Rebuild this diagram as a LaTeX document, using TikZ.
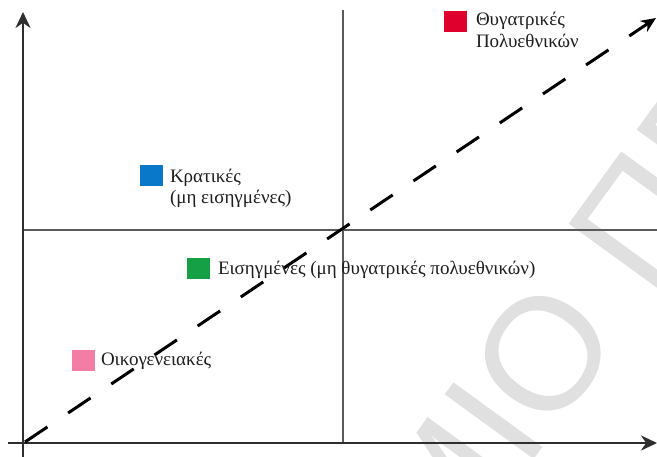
\documentclass[tikz,border=0pt]{standalone}
\usepackage{fontspec}
\setmainfont{Liberation Serif}
\newfontfamily\wmfont{Liberation Sans}
\usetikzlibrary{arrows.meta}
\definecolor{wmgray}{HTML}{E0E0E0}
\definecolor{axisgray}{HTML}{2E2E2E}
\definecolor{guidegray}{HTML}{5A5A5A}
\definecolor{labelgray}{HTML}{1E1E1E}
\definecolor{swred}{HTML}{E0002E}
\definecolor{swblue}{HTML}{0A78C8}
\definecolor{swgreen}{HTML}{16A045}
\definecolor{swpink}{HTML}{F27EA6}
\begin{document}
\begin{tikzpicture}[x=1pt,y=-1pt,
  axis/.style={line width=2.6pt, draw=axisgray, -{Stealth[length=16pt,width=15pt]}},
  guide/.style={line width=1.2pt, draw=guidegray},
  trend/.style={line width=3pt, draw=black, dash pattern=on 27pt off 25pt, -{Stealth[length=15pt,width=13pt]}},
  swatch/.style={minimum width=23pt, minimum height=21pt, inner sep=0pt, outer sep=0pt, anchor=north west},
  lbl/.style={anchor=base west, inner sep=0pt, outer sep=0pt, font=\fontsize{19}{22}\selectfont, text=labelgray},
  wm/.style={inner sep=0pt, outer sep=0pt, rotate=54, text=wmgray, font=\wmfont\fontsize{160}{160}\selectfont}]

\useasboundingbox (0,0) rectangle (657,457);
\fill[white] (0,0) rectangle (657,457);

% watermark
\begin{scope}
\clip (0,0) rectangle (657,457);
\coordinate (wm) at (525,472);
\node[wm, anchor=base east] (wmA) at (wm) {ΠΑΝΕΠΙΣΤΗΜ};
\node[wm, anchor=base west] (wmB) at (wm) {ΙΟ ΠΕΙΡΑΙΩΣ};
\end{scope}

% coordinates
\coordinate (Ybot) at (23,457);
\coordinate (Ytip) at (23,12);
\coordinate (Xstart) at (8,443);
\coordinate (Xtip) at (657,443);
\coordinate (Vtop) at (343,10);
\coordinate (Vbot) at (343,443);
\coordinate (Hl) at (23,230);
\coordinate (Hr) at (657,230);
\coordinate (T0) at (25,442);
\coordinate (T1) at (656,18);

% guide lines
\draw[guide] (Vtop) -- (Vbot);
\draw[guide] (Hl) -- (Hr);

% axes
\draw[axis] (Ybot) -- (Ytip);
\draw[axis] (Xstart) -- (Xtip);

% trend line
\draw[trend] (T0) -- (T1);

% swatches and labels
\node[swatch, fill=swred] (sqR) at (444,11) {};
\node[lbl] (lR1) at (476,26) {Θυγατρικές};
\node[lbl] (lR2) at (476,48) {Πολυεθνικών};

\node[swatch, fill=swblue] (sqB) at (140,165) {};
\node[lbl] (lB1) at (170,183) {Κρατικές};
\node[lbl] (lB2) at (170,204) {(μη εισηγμένες)};

\node[swatch, fill=swgreen] (sqG) at (187,258) {};
\node[lbl] (lG) at (218,275) {Εισηγμένες (μη θυγατρικές πολυεθνικών)};

\node[swatch, fill=swpink] (sqP) at (72,350) {};
\node[lbl] (lP) at (101,366) {Οικογενειακές};
\end{tikzpicture}
\end{document}
